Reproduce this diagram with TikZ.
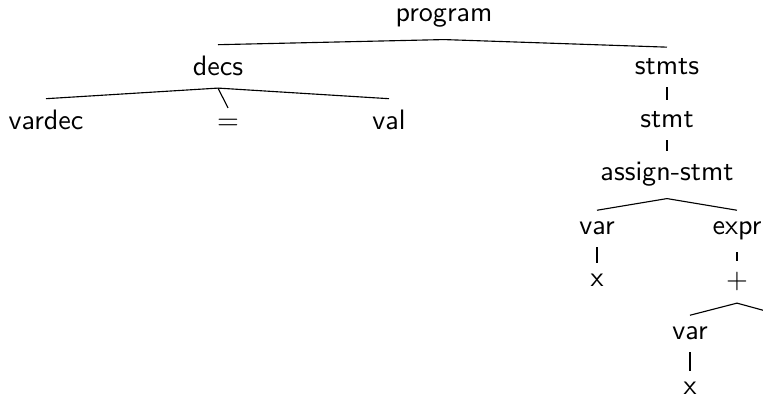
\documentclass[tikz,border=0pt]{standalone}
\begin{document}
\begin{tikzpicture}[x=0.356pt,y=0.356pt]
\tikzstyle{every node}+=[font=\sffamily, anchor=base, inner sep=4pt]
\useasboundingbox (0,0) rectangle (763,-399);
\clip (0,0) rectangle (763,-399);
\node (program) at (444,-22) {program};
\node (decs) at (218,-76) {decs};
\node (stmts) at (667,-75) {stmts};
\node (vardec) at (46,-130) {vardec};
\node (eq) at (228,-130) {$=$};
\node (val) at (389,-130) {val};
\node (stmt) at (667,-128) {stmt};
\node (assign) at (667,-181) {assign-stmt};
\node (var) at (597,-235) {var};
\node (expr) at (737,-235) {expr};
\node (x) at (597,-287) {x};
\node (plus) at (737,-289) {$+$};
\node (varb) at (690,-340) {var};
\node (xb) at (690,-395) {x};
\coordinate (rest) at (784,-316); % second operand, off the page
\draw [black] (program.south) -- (decs.north);
\draw [black] (program.south) -- (stmts.north);
\draw [black] (decs.south) -- (vardec.north);
\draw [black] (decs.south) -- (eq.north);
\draw [black] (decs.south) -- (val.north);
\draw [black] (stmts.south) -- (stmt.north);
\draw [black] (stmt.south) -- (assign.north);
\draw [black] (assign.south) -- (var.north);
\draw [black] (assign.south) -- (expr.north);
\draw [black] (var.south) -- (x.north);
\draw [black] (expr.south) -- (plus.north);
\draw [black] (plus.south) -- (varb.north);
\draw [black] (plus.south) -- (rest);
\draw [black] (varb.south) -- (xb.north);
\end{tikzpicture}
\end{document}
